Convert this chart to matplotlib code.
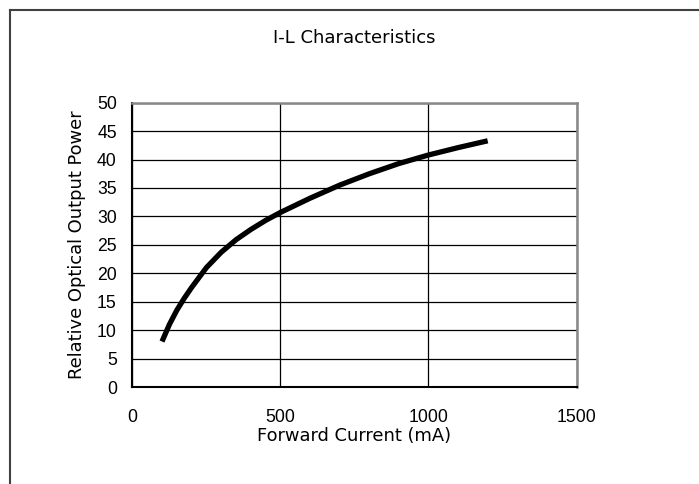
import matplotlib
matplotlib.use("Agg")
import matplotlib.pyplot as plt
from matplotlib.lines import Line2D

# Data
current_ma = [100, 125, 150, 175, 200, 250, 300, 350, 400, 450, 500,
              600, 700, 800, 900, 1000, 1100, 1200]
rel_power = [8.0, 11.0, 13.5, 15.6, 17.5, 21.0, 23.7, 25.9, 27.7, 29.3, 30.7,
             33.2, 35.5, 37.5, 39.3, 40.8, 42.1, 43.3]

x_ticks = [0, 500, 1000, 1500]
y_ticks = [0, 5, 10, 15, 20, 25, 30, 35, 40, 45, 50]

title = "I-L Characteristics"
x_label = "Forward Current (mA)"
y_label = "Relative Optical Output Power"

W, H, DPI = 699, 484, 100
fig = plt.figure(figsize=(W / DPI, H / DPI), dpi=DPI)
fig.patch.set_facecolor("white")

# axes placement (pixels in the 699x484 image)
left_px, right_px, top_px, bottom_px = 132.4, 576.5, 102.7, 387.0
ax = fig.add_axes([left_px / W, 1 - bottom_px / H,
                   (right_px - left_px) / W, (bottom_px - top_px) / H])

ax.plot(current_ma, rel_power, color="black", lw=3.8,
        solid_capstyle="butt", solid_joinstyle="round", zorder=3)

ax.set_xlim(0, 1500)
ax.set_ylim(0, 50)
ax.set_xticks(x_ticks)
ax.set_yticks(y_ticks)
ax.grid(True, color="black", lw=0.9, zorder=1)
ax.set_axisbelow(True)

tick_font = {"family": ["Liberation Sans", "DejaVu Sans"], "size": 12.7}
ax.set_xticklabels([str(t) for t in x_ticks], fontdict=tick_font)
ax.set_yticklabels([str(t) for t in y_ticks], fontdict=tick_font)
ax.tick_params(axis="x", length=0, pad=16)
ax.tick_params(axis="y", length=0, pad=11.2)

for side in ("top", "right"):
    ax.spines[side].set_color("#888888")
    ax.spines[side].set_linewidth(1.8)
for side in ("left", "bottom"):
    ax.spines[side].set_color("black")
    ax.spines[side].set_linewidth(1.5)

label_font = {"family": ["DejaVu Sans"], "size": 12.9}
ax.set_xlabel(x_label, fontdict=label_font, va="baseline")
ax.xaxis.set_label_coords(0.5, (bottom_px - 440.7) / (bottom_px - top_px))
ax.set_ylabel(y_label, fontdict=label_font, va="baseline")
ax.yaxis.set_label_coords((82.0 - left_px) / (right_px - left_px), 0.5)

ax.text(0.5, (bottom_px - 43.4) / (bottom_px - top_px), title,
        transform=ax.transAxes, ha="center", va="baseline",
        family=["DejaVu Sans"], size=13.0)

# outer chart-area border (only top and left edges are inside the image)
bx = 10.0 / W
by = 1 - 10.0 / H
fig.add_artist(Line2D([bx, bx], [by, -0.01], transform=fig.transFigure,
                      color="#404040", lw=1.5))
fig.add_artist(Line2D([bx, 1.01], [by, by], transform=fig.transFigure,
                      color="#404040", lw=1.5))

fig.savefig("out.png", dpi=DPI, facecolor="white")
